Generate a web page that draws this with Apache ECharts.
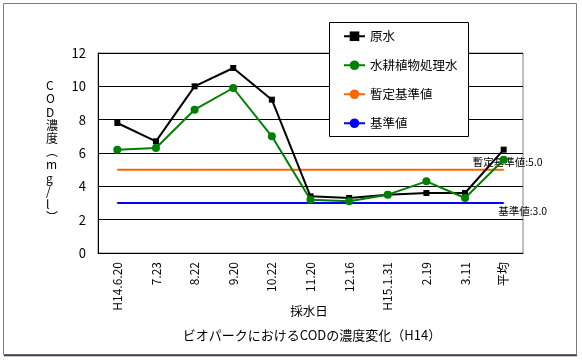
<!DOCTYPE html>
<html>
<head>
<meta charset="utf-8">
<script src="https://cdn.jsdelivr.net/npm/echarts@6/dist/echarts.min.js"></script>
<style>
html,body{margin:0;padding:0;background:#fff;}
#chart{width:582px;height:360px;}
</style>
</head>
<body>
<div id="chart"></div>
<script>
const categories = ['H14.6.20','7.23','8.22','9.20','10.22','11.20','12.16','H15.1.31','2.19','3.11','平均'];
const rawWater = [7.8, 6.7, 10.0, 11.1, 9.2, 3.4, 3.3, 3.5, 3.6, 3.6, 6.2];
const treatedWater = [6.2, 6.3, 8.6, 9.9, 7.0, 3.2, 3.1, 3.5, 4.3, 3.3, 5.6];
const provisionalStandard = [5.0, 5.0, 5.0, 5.0, 5.0, 5.0, 5.0, 5.0, 5.0, 5.0, 5.0];
const standard = [3.0, 3.0, 3.0, 3.0, 3.0, 3.0, 3.0, 3.0, 3.0, 3.0, 3.0];
const yTicks = [0, 2, 4, 6, 8, 10, 12];
const seriesNames = ['原水', '水耕植物処理水', '暫定基準値', '基準値'];
const titleText = 'ビオパークにおけるCODの濃度変化（H14）';
const xAxisName = '採水日';
const yAxisName = 'COD濃度（mg/l）';

const FONT = '"Noto Sans CJK JP", "Noto Sans", sans-serif';

function withEndLabel(arr, text, pos, offset) {
  return arr.map((v, i) => i === arr.length - 1 ? {
    value: v,
    label: { show: true, position: pos, distance: 2, offset: offset, formatter: text,
      fontFamily: FONT, fontSize: 10.5, color: '#000' }
  } : v);
}

const yNameVertical = yAxisName.replace('（', '︵').replace('）', '︶').split('').join('\n');

const chart = echarts.init(document.getElementById('chart'), null, { renderer: 'canvas' });
chart.setOption({
  animation: false,
  backgroundColor: '#fff',
  textStyle: { fontFamily: FONT },
  grid: { left: 98, top: 53, right: 59, bottom: 107, show: true, borderColor: '#808080', borderWidth: 1, backgroundColor: 'transparent' },
  legend: {
    orient: 'vertical', left: 343, top: 30, itemWidth: 21, itemHeight: 12, itemGap: 16.5,
    padding: 0, z: 10,
    textStyle: { fontFamily: FONT, fontSize: 12.5, color: '#000' },
    data: seriesNames
  },
  xAxis: {
    type: 'category', data: categories, boundaryGap: true,
    axisLine: { lineStyle: { color: '#000', width: 1 } },
    axisTick: { show: false },
    axisLabel: { rotate: 90, fontSize: 12, color: '#000', margin: 9, fontFamily: FONT, interval: 0 },
    splitLine: { show: false }
  },
  yAxis: {
    type: 'value', min: yTicks[0], max: yTicks[yTicks.length - 1], interval: 2,
    axisLine: { show: true, lineStyle: { color: '#000', width: 1 } },
    axisTick: { show: false },
    axisLabel: { fontSize: 13, color: '#000', margin: 12, fontFamily: FONT },
    splitLine: { show: true, lineStyle: { color: '#000', width: 1 } }
  },
  graphic: [
    { type: 'rect', z: 0, silent: true, shape: { x: 3.5, y: 3.5, width: 573, height: 351 },
      style: { fill: 'none', stroke: '#7a7a8c', lineWidth: 1 } },
    { type: 'line', z: 0, silent: true, shape: { x1: 4, y1: 355.5, x2: 577, y2: 355.5 },
      style: { stroke: '#3a3a4a', lineWidth: 1.5 } },
    { type: 'rect', z: 9, silent: true, shape: { x: 329.5, y: 22.5, width: 139, height: 114 },
      style: { fill: '#fff', stroke: '#000', lineWidth: 1 } },
    { type: 'text', z: 10, silent: true, left: 46, top: 79,
      style: { text: yNameVertical, fontFamily: FONT, fontSize: 12, lineHeight: 13.2, fill: '#000', align: 'center' } },
    { type: 'text', z: 10, silent: true, x: 309, y: 311,
      style: { text: xAxisName, fontFamily: FONT, fontSize: 12.5, fill: '#000', align: 'center', verticalAlign: 'middle' } },
    { type: 'text', z: 10, silent: true, x: 312, y: 335,
      style: { text: titleText, fontFamily: FONT, fontSize: 13, fill: '#000', align: 'center', verticalAlign: 'middle' } }
  ],
  series: [
    { name: seriesNames[2], type: 'line', data: withEndLabel(provisionalStandard, '暫定基準値:5.0', 'top', [4, 0]),
      symbol: 'circle', symbolSize: 1, showSymbol: true,
      lineStyle: { color: '#ff6600', width: 2 }, itemStyle: { color: '#ff6600' }, z: 2 },
    { name: seriesNames[3], type: 'line', data: withEndLabel(standard, '基準値:3.0', 'bottom', [19, 0]),
      symbol: 'circle', symbolSize: 1, showSymbol: true,
      lineStyle: { color: '#0000ff', width: 2 }, itemStyle: { color: '#0000ff' }, z: 2 },
    { name: seriesNames[0], type: 'line', data: rawWater, symbol: 'rect', symbolSize: 6,
      lineStyle: { color: '#000', width: 2 }, itemStyle: { color: '#000' }, z: 3 },
    { name: seriesNames[1], type: 'line', data: treatedWater, symbol: 'circle', symbolSize: 8,
      lineStyle: { color: '#008000', width: 2 }, itemStyle: { color: '#008000' }, z: 4 }
  ]
});
</script>
</body>
</html>
